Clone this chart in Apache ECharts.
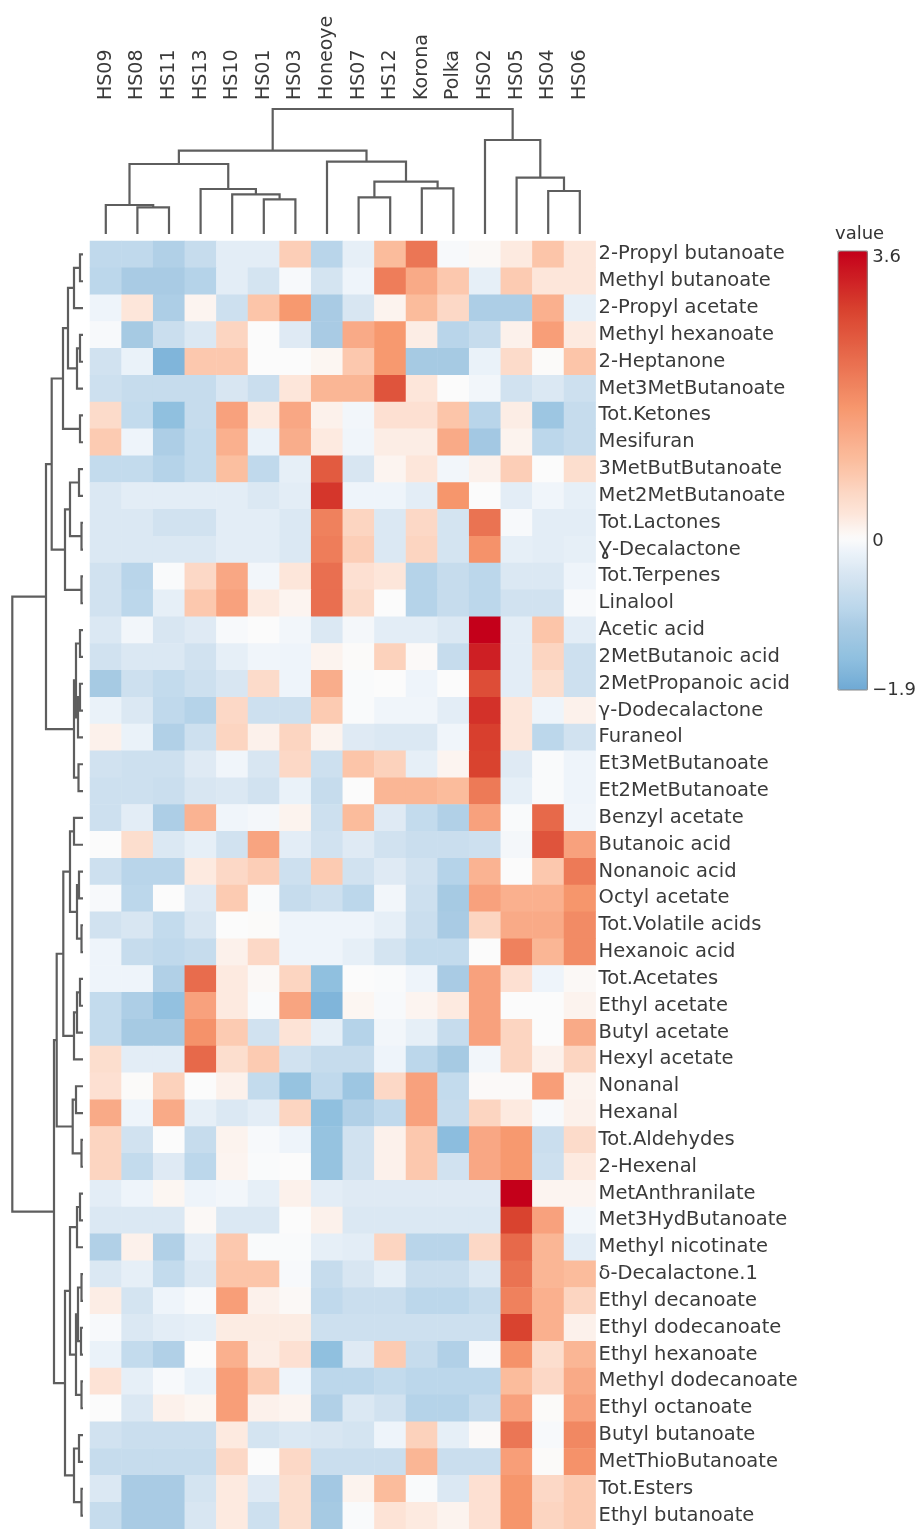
<!DOCTYPE html>
<html>
<head>
<meta charset="utf-8">
<script src="https://cdn.jsdelivr.net/npm/echarts@6/dist/echarts.min.js"></script>
<style>
html,body{margin:0;padding:0;background:#fff;}
#chart{width:919px;height:1529px;}
</style>
</head>
<body>
<div id="chart"></div>
<script>
// ---------------- DATA ----------------
const columns = ['HS09','HS08','HS11','HS13','HS10','HS01','HS03','Honeoye','HS07','HS12','Korona','Polka','HS02','HS05','HS04','HS06'];

const rows = ['2-Propyl butanoate','Methyl butanoate','2-Propyl acetate','Methyl hexanoate','2-Heptanone','Met3MetButanoate','Tot.Ketones','Mesifuran','3MetButButanoate','Met2MetButanoate','Tot.Lactones','\u0194-Decalactone','Tot.Terpenes','Linalool','Acetic acid','2MetButanoic acid','2MetPropanoic acid','\u03b3-Dodecalactone','Furaneol','Et3MetButanoate','Et2MetButanoate','Benzyl acetate','Butanoic acid','Nonanoic acid','Octyl acetate','Tot.Volatile acids','Hexanoic acid','Tot.Acetates','Ethyl acetate','Butyl acetate','Hexyl acetate','Nonanal','Hexanal','Tot.Aldehydes','2-Hexenal','MetAnthranilate','Met3HydButanoate','Methyl nicotinate','\u03b4-Decalactone.1','Ethyl decanoate','Ethyl dodecanoate','Ethyl hexanoate','Methyl dodecanoate','Ethyl octanoate','Butyl butanoate','MetThioButanoate','Tot.Esters','Ethyl butanoate'];

// one row per compound, columns in the order of `columns`
const values = [
 [-0.8,-0.8,-1.0,-0.7,-0.3,-0.3,0.7,-0.9,-0.25,1.0,2.1,-0.05,0.05,0.25,0.85,0.3],
 [-0.85,-1.1,-1.1,-0.95,-0.3,-0.5,-0.05,-0.5,-0.15,2.0,1.3,0.8,-0.25,0.75,0.3,0.3],
 [-0.15,0.3,-1.05,0.1,-0.6,0.85,1.6,-1.1,-0.45,0.12,1.0,0.55,-1.05,-1.05,1.2,-0.25],
 [-0.05,-1.15,-0.65,-0.4,0.6,0,-0.35,-1.1,1.3,1.6,0.2,-0.9,-0.7,0.15,1.5,0.25],
 [-0.55,-0.2,-1.7,0.8,0.8,0,0,0.08,0.8,1.6,-1.15,-1.15,-0.2,0.5,0.02,0.85],
 [-0.6,-0.7,-0.7,-0.7,-0.45,-0.65,0.3,1.1,1.1,2.6,0.3,0,-0.1,-0.55,-0.4,-0.6],
 [0.5,-0.75,-1.5,-0.7,1.45,0.25,1.35,0.15,-0.1,0.4,0.4,0.85,-0.9,0.2,-1.3,-0.7],
 [0.75,-0.15,-1.05,-0.75,1.2,-0.2,1.25,0.25,-0.12,0.2,0.2,1.3,-1.2,0.12,-0.85,-0.7],
 [-0.75,-0.75,-0.95,-0.75,0.95,-0.8,-0.25,2.5,-0.45,0.1,0.3,-0.1,0.15,0.7,0,0.45],
 [-0.4,-0.3,-0.3,-0.3,-0.3,-0.4,-0.3,3.0,-0.15,-0.15,-0.3,1.65,0,-0.3,-0.12,-0.25],
 [-0.4,-0.4,-0.55,-0.55,-0.3,-0.3,-0.4,1.95,0.6,-0.4,0.55,-0.5,2.15,-0.05,-0.3,-0.3],
 [-0.4,-0.4,-0.4,-0.4,-0.3,-0.3,-0.4,2.0,0.7,-0.4,0.6,-0.5,1.7,-0.25,-0.3,-0.25],
 [-0.55,-0.9,-0.03,0.55,1.35,-0.1,0.3,2.2,0.4,0.3,-0.95,-0.7,-0.85,-0.4,-0.4,-0.15],
 [-0.55,-0.85,-0.25,0.8,1.45,0.25,0.1,2.2,0.5,0,-0.95,-0.7,-0.85,-0.55,-0.55,-0.05],
 [-0.4,-0.1,-0.45,-0.35,-0.05,0,-0.1,-0.4,-0.08,-0.3,-0.3,-0.4,3.6,-0.3,0.85,-0.3],
 [-0.55,-0.4,-0.4,-0.55,-0.25,-0.12,-0.15,0.12,0.02,0.65,0.03,-0.7,3.25,-0.3,0.6,-0.6],
 [-1.15,-0.6,-0.75,-0.6,-0.45,0.5,-0.15,1.25,-0.03,0,-0.15,0,2.7,-0.3,0.45,-0.6],
 [-0.2,-0.4,-0.8,-0.95,0.55,-0.6,-0.6,0.75,-0.03,-0.12,-0.12,-0.3,3.05,0.3,-0.15,0.15],
 [0.15,-0.2,-1.0,-0.6,0.6,0.15,0.6,0.12,-0.35,-0.4,-0.4,-0.12,2.9,0.3,-0.85,-0.55],
 [-0.55,-0.6,-0.6,-0.35,-0.12,-0.45,0.55,-0.6,0.85,0.65,-0.25,0.1,2.85,-0.35,-0.03,-0.15],
 [-0.6,-0.6,-0.65,-0.45,-0.4,-0.55,-0.2,-0.7,0,1.1,1.1,1.0,2.05,-0.25,-0.03,-0.15],
 [-0.6,-0.3,-1.05,1.15,-0.12,-0.08,0.12,-0.6,1.0,-0.35,-0.75,-1.0,1.45,-0.03,2.3,-0.12],
 [0,0.45,-0.4,-0.25,-0.55,1.4,-0.3,-0.55,-0.35,-0.55,-0.65,-0.65,-0.6,-0.08,2.6,1.45],
 [-0.6,-0.9,-0.9,0.25,0.55,0.7,-0.6,0.75,-0.55,-0.35,-0.55,-0.95,1.15,0,0.8,2.05],
 [-0.05,-0.85,0,-0.35,0.75,-0.03,-0.7,-0.6,-0.85,-0.1,-0.6,-1.15,1.45,1.2,1.2,1.65],
 [-0.55,-0.45,-0.75,-0.45,0,0.02,-0.15,-0.15,-0.15,-0.25,-0.65,-1.1,0.6,1.3,1.3,1.8],
 [-0.15,-0.7,-0.8,-0.7,0.15,0.55,-0.15,-0.15,-0.25,-0.5,-0.75,-0.75,0,1.95,1.1,1.8],
 [-0.15,-0.15,-1.0,2.25,0.25,0.05,0.6,-1.5,0,-0.03,-0.15,-1.1,1.45,0.4,-0.15,0.05],
 [-0.75,-1.05,-1.45,1.45,0.25,-0.02,1.4,-1.7,0.08,-0.05,0.1,0.25,1.45,0,0,0.12],
 [-0.75,-1.15,-1.15,1.7,0.75,-0.55,0.35,-0.25,-0.95,-0.1,-0.25,-0.7,1.45,0.6,0,1.3],
 [0.45,-0.3,-0.3,2.3,0.45,0.75,-0.55,-0.7,-0.7,-0.15,-0.85,-1.15,-0.1,0.6,0.15,0.6],
 [0.4,0.02,0.65,0,0.15,-0.75,-1.4,-0.8,-1.3,0.55,1.45,-0.75,0.03,0.03,1.5,0.12],
 [1.3,-0.15,1.3,-0.25,-0.4,-0.3,0.6,-1.5,-1.0,-0.8,1.45,-0.7,0.6,0.25,-0.05,0.15],
 [0.6,-0.55,0,-0.7,0.12,-0.05,-0.15,-1.4,-0.55,0.15,0.8,-1.55,1.35,1.6,-0.65,0.5],
 [0.6,-0.75,-0.35,-0.85,0.1,-0.03,0,-1.4,-0.55,0.15,0.8,-0.55,1.35,1.6,-0.6,0.25],
 [-0.3,-0.15,0.08,-0.15,-0.1,-0.25,0.15,-0.3,-0.35,-0.35,-0.35,-0.35,-0.35,3.6,0.1,0.1],
 [-0.4,-0.4,-0.4,0.05,-0.4,-0.4,0,0.15,-0.4,-0.4,-0.4,-0.4,-0.4,2.85,1.45,-0.1],
 [-1.0,0.15,-1.0,-0.3,0.8,-0.03,-0.03,-0.25,-0.3,0.6,-0.9,-0.9,0.55,2.3,1.1,-0.3],
 [-0.4,-0.25,-0.75,-0.4,0.85,0.85,-0.05,-0.7,-0.45,-0.25,-0.65,-0.65,-0.4,2.15,1.1,1.0],
 [0.2,-0.5,-0.15,-0.05,1.5,0.15,0.05,-0.8,-0.65,-0.65,-0.85,-0.85,-0.7,1.95,1.2,0.6],
 [-0.05,-0.4,-0.3,-0.25,0.22,0.22,0.22,-0.6,-0.6,-0.6,-0.6,-0.6,-0.6,2.85,1.2,0.15],
 [-0.2,-0.75,-1.0,0,1.2,0.2,0.4,-1.5,-0.35,0.75,-0.7,-1.0,-0.05,1.7,0.45,1.1],
 [0.35,-0.25,-0.05,-0.2,1.5,0.75,-0.15,-0.85,-0.85,-0.75,-0.85,-0.85,-0.85,1.0,0.55,1.3],
 [0,-0.4,0.15,0.08,1.5,0.15,0.1,-1.0,-0.4,-0.55,-0.95,-0.95,-0.7,1.45,0.02,1.45],
 [-0.55,-0.65,-0.65,-0.65,0.25,-0.5,-0.4,-0.45,-0.5,-0.15,0.65,-0.25,0.03,2.1,-0.05,1.85],
 [-0.7,-0.7,-0.7,-0.7,0.55,0,0.55,-0.65,-0.65,-0.65,1.1,-0.65,-0.65,1.5,0.02,1.7],
 [-0.4,-1.1,-1.1,-0.5,0.25,-0.35,0.45,-1.2,0.12,1.0,-0.03,-0.4,0.4,1.65,0.55,0.75],
 [-0.7,-1.1,-1.1,-0.45,0.25,-0.6,0.45,-1.15,-0.03,0.35,0.25,0.12,0.4,1.65,0.6,0.75]
];

// dendrogram merges: [childA, childB, height]; leaves are 0..n-1, merge k creates node n+k
const colLinkage = [
 [1,2,2.67],[0,16,2.9],[5,6,3.47],[4,18,3.97],[3,19,4.5],[17,20,7.0],
 [8,9,3.67],[10,11,4.57],[22,23,5.23],[7,24,7.23],[21,25,8.33],
 [14,15,4.3],[13,27,5.63],[12,28,9.4],[26,29,12.5]
];
const rowLinkage = [
 [0,1,3],[48,2,9],[3,4,3],[50,5,6],[49,51,15],[6,7,3],[52,53,20],
 [8,9,4],[10,11,1.5],[55,56,13],[12,13,1.5],[57,58,18],[54,59,31.3],
 [14,15,3],[16,17,3],[62,18,5],[61,63,7],[19,20,4.5],[64,65,9],[60,66,37],
 [21,22,9],[23,24,4],[25,26,1.5],[69,70,6],[68,71,13],[27,28,3],[73,29,6],[74,30,9],[72,75,19.7],
 [31,32,7],[33,34,1.5],[77,78,10.3],[76,79,26.3],
 [35,36,3],[81,37,6],[38,39,1.5],[40,41,2],[83,84,5],[42,43,1.5],[85,86,7],[82,87,13],
 [44,45,4],[46,47,1.5],[89,90,9],[88,91,18],[80,92,29],[67,93,70.7]
];

const valueMin = -1.9, valueMax = 3.6;
const colorbarTicks = [-1.9, 0, 3.6];
const colorStops = [
 [-1.9,'#6fa9d5'],[-1.5,'#90c0df'],[-1.1,'#a9cbe4'],[-0.9,'#b9d5ea'],[-0.6,'#cde0ef'],
 [-0.4,'#dbe8f3'],[-0.15,'#eef4fa'],[0,'#fbfbfb'],[0.3,'#fde6da'],[0.55,'#fcd8c6'],
 [0.75,'#fccbb2'],[1.0,'#fbbc9c'],[1.45,'#f8a17d'],[1.6,'#f7996f'],[2.25,'#e86c4d'],
 [2.85,'#d9432f'],[3.6,'#c4001a']
];

// ---------------- HELPERS ----------------
function hex2rgb(h){return [parseInt(h.slice(1,3),16),parseInt(h.slice(3,5),16),parseInt(h.slice(5,7),16)];}
function colorAt(v){
  for(let i=0;i<colorStops.length-1;i++){
    const [v0,c0]=colorStops[i],[v1,c1]=colorStops[i+1];
    if(v<=v1+1e-9){
      const t=Math.max(0,Math.min(1,(v-v0)/(v1-v0)));
      const a=hex2rgb(c0),b=hex2rgb(c1);
      return 'rgb('+a.map((x,k)=>Math.round(x+(b[k]-x)*t)).join(',')+')';
    }
  }
  return colorStops[colorStops.length-1][1];
}
const nPal=111;
const palette=[];
for(let i=0;i<nPal;i++) palette.push(colorAt(valueMin+i*(valueMax-valueMin)/(nPal-1)));

function dendroSegments(linkage,n,horizontal){
  const pos=[],h=[];
  for(let i=0;i<n;i++){pos[i]=i+0.5;h[i]=0;}
  const segs=[];
  linkage.forEach((m,k)=>{
    const [a,b,ht]=m, id=n+k;
    pos[id]=(pos[a]+pos[b])/2; h[id]=ht;
    const pts=[[pos[a],h[a]],[pos[a],ht],[pos[b],ht],[pos[b],h[b]]];
    segs.push({coords: horizontal ? pts.map(p=>[p[1],p[0]]) : pts});
  });
  return segs;
}

const heatData=[];
values.forEach((row,r)=>row.forEach((v,c)=>heatData.push([c,r,v])));

// ---------------- LAYOUT ----------------
const FONT='DejaVu Sans';
const hmLeft=90, hmTop=241, hmW=505.6, hmH=1291.2;
const lineStyle={color:'#5e5e5e',width:2.2,opacity:1};

const option={
  animation:false,
  backgroundColor:'#ffffff',
  title:{text:'value',left:835,top:225,padding:0,textStyle:{fontFamily:FONT,fontSize:18,fontWeight:'normal',color:'#333'}},
  grid:[
    {left:hmLeft,top:hmTop,width:hmW,height:hmH},
    {left:hmLeft,top:109,width:hmW,height:125},
    {left:12.3,top:hmTop,width:70.7,height:hmH},
    {left:838,top:251,width:30,height:439,show:true,borderColor:'#8a8a8a',borderWidth:1,backgroundColor:'transparent',z:6}
  ],
  xAxis:[
    {type:'category',gridIndex:0,data:columns,position:'top',
     axisLine:{show:false},axisTick:{show:false},splitLine:{show:false},
     axisLabel:{rotate:-90,margin:141,interval:0,fontFamily:FONT,fontSize:19,color:'#3a3a3a'}},
    {type:'value',gridIndex:1,min:0,max:columns.length,show:false},
    {type:'value',gridIndex:2,min:0,max:70.7,inverse:true,show:false},
    {type:'value',gridIndex:3,min:0,max:1,show:false}
  ],
  yAxis:[
    {type:'category',gridIndex:0,data:rows,inverse:true,position:'right',
     axisLine:{show:false},axisTick:{show:false},splitLine:{show:false},
     axisLabel:{margin:3,interval:0,fontFamily:FONT,fontSize:19.5,color:'#3a3a3a'}},
    {type:'value',gridIndex:1,min:0,max:12.5,show:false},
    {type:'value',gridIndex:2,min:0,max:rows.length,inverse:true,show:false},
    {type:'value',gridIndex:3,min:valueMin,max:valueMax,position:'right',
     axisLine:{show:false},axisTick:{show:false},splitLine:{show:false},
     axisLabel:{customValues:colorbarTicks,margin:5,fontFamily:FONT,fontSize:18,color:'#333',
       formatter:v=>{
         if(v===valueMax) return '{top|'+v+'}';
         if(v===0) return '{mid|0}';
         return '\u2212'+Math.abs(v);
       },
       rich:{top:{padding:[12,0,0,0],fontFamily:FONT,fontSize:18,color:'#333'},
             mid:{padding:[6,0,0,0],fontFamily:FONT,fontSize:18,color:'#333'}}}}
  ],
  visualMap:{
    type:'continuous',seriesIndex:0,min:valueMin,max:valueMax,
    left:838,top:251,itemWidth:30,itemHeight:439,padding:0,
    calculable:false,realtime:false,show:true,
    inRange:{color:palette},text:null,textGap:0
  },
  series:[
    {type:'heatmap',xAxisIndex:0,yAxisIndex:0,data:heatData,
     itemStyle:{borderWidth:0},emphasis:{disabled:true},progressive:0},
    {type:'lines',coordinateSystem:'cartesian2d',xAxisIndex:1,yAxisIndex:1,polyline:true,
     silent:true,data:dendroSegments(colLinkage,columns.length,false),lineStyle:lineStyle},
    {type:'lines',coordinateSystem:'cartesian2d',xAxisIndex:2,yAxisIndex:2,polyline:true,
     silent:true,data:dendroSegments(rowLinkage,rows.length,true),lineStyle:lineStyle}
  ]
};

const chart=echarts.init(document.getElementById('chart'),null,{renderer:'canvas'});
chart.setOption(option);
</script>
</body>
</html>
